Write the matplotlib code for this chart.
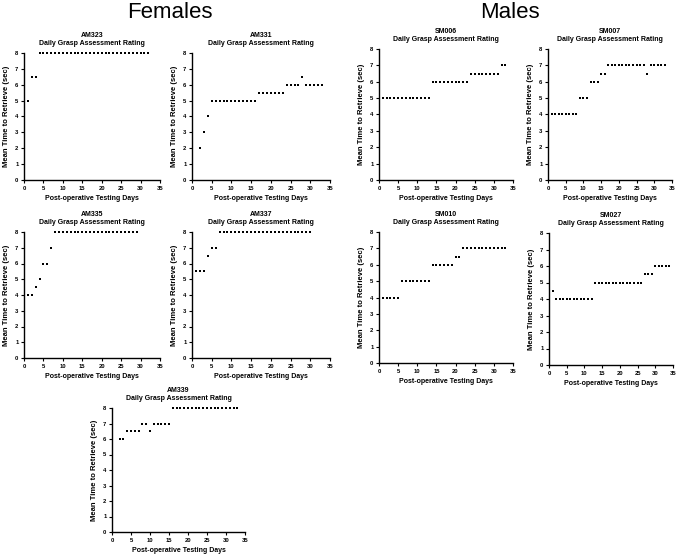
import numpy as np
import matplotlib
matplotlib.use("Agg")
import matplotlib.pyplot as plt

plt.rcParams['font.family'] = ['Liberation Sans', 'DejaVu Sans']

# days and ratings
am323_days = [1, 2, 3] + list(range(4, 33))
am323_vals = [5, 6.5, 6.5] + [8] * 29

am331_days = [2, 3, 4] + list(range(5, 17)) + list(range(17, 24)) + list(range(24, 28)) + [28] + list(range(29, 34))
am331_vals = [2, 3, 4] + [5] * 12 + [5.5] * 7 + [6] * 4 + [6.5] + [6] * 5

sm006_days = list(range(1, 14)) + list(range(14, 24)) + list(range(24, 32)) + [32, 33]
sm006_vals = [5] * 13 + [6] * 10 + [6.5] * 8 + [7, 7]

sm007_days = list(range(1, 9)) + [9, 10, 11] + [12, 13, 14] + [15, 16] + list(range(17, 28)) + [28] + list(range(29, 34))
sm007_vals = [4] * 8 + [5] * 3 + [6] * 3 + [6.5] * 2 + [7] * 11 + [6.5] + [7] * 5

am335_days = [1, 2, 3, 4, 5, 6, 7] + list(range(8, 30))
am335_vals = [4, 4, 4.5, 5, 6, 6, 7] + [8] * 22

am337_days = [1, 2, 3, 4, 5, 6] + list(range(7, 31))
am337_vals = [5.5, 5.5, 5.5, 6.5, 7, 7] + [8] * 24

sm010_days = list(range(1, 6)) + list(range(6, 14)) + list(range(14, 20)) + [20, 21] + list(range(22, 34))
sm010_vals = [4] * 5 + [5] * 8 + [6] * 6 + [6.5] * 2 + [7] * 12

sm027_days = [1] + list(range(2, 13)) + list(range(13, 27)) + [27, 28, 29] + list(range(30, 35))
sm027_vals = [4.5] + [4] * 11 + [5] * 14 + [5.5] * 3 + [6] * 5

am339_days = [2, 3] + [4, 5, 6, 7] + [8, 9] + [10] + list(range(11, 16)) + list(range(16, 34))
am339_vals = [6, 6] + [6.5] * 4 + [7, 7] + [6.5] + [7] * 5 + [8] * 18

W, H = 685, 558
fig = plt.figure(figsize=(W / 100, H / 100), dpi=100)


def panel(name, days, vals, x0, x1, ytop, ybot):
    ax = fig.add_axes([x0 / W, 1 - ybot / H, (x1 - x0) / W, (ybot - ytop) / H])
    ax.plot(days, vals, 's', color='black', markersize=1.8, markeredgewidth=0, clip_on=False)
    ax.set_xlim(0, 35)
    ax.set_ylim(0, 8)
    ax.set_xticks(range(0, 36, 5))
    ax.set_yticks(range(0, 9))
    for s in ['top', 'right']:
        ax.spines[s].set_visible(False)
    for s in ['left', 'bottom']:
        ax.spines[s].set_linewidth(1.0)
    ax.tick_params(labelsize=4.2, length=2.5, width=0.8, pad=1.5)
    for lab in ax.get_xticklabels() + ax.get_yticklabels():
        lab.set_fontweight('bold')
    ax.set_title(name + "\nDaily Grasp Assessment Rating", fontsize=5, fontweight='bold',
                 pad=6, linespacing=1.2)
    ax.set_ylabel("Mean Time to Retrieve (sec)", fontsize=5.5, fontweight='bold', labelpad=4)
    ax.set_xlabel("Post-operative Testing Days", fontsize=5, fontweight='bold', labelpad=3)
    return ax


panel("AM323", am323_days, am323_vals, 24, 160, 53, 180)
panel("AM331", am331_days, am331_vals, 192, 330, 53, 180)
panel("SM006", sm006_days, sm006_vals, 379, 513, 49, 180)
panel("SM007", sm007_days, sm007_vals, 548, 672, 49, 180)
panel("AM335", am335_days, am335_vals, 24, 160, 232, 358)
panel("AM337", am337_days, am337_vals, 192, 330, 232, 358)
panel("SM010", sm010_days, sm010_vals, 379, 513, 232, 363)
panel("SM027", sm027_days, sm027_vals, 549, 673, 233, 365)
panel("AM339", am339_days, am339_vals, 112, 245, 408, 532)

fig.text(170 / W, 1 - 12 / H, "Females", fontsize=16, ha='center', va='center')
fig.text(510 / W, 1 - 12 / H, "Males", fontsize=16, ha='center', va='center')

fig.savefig("out.png", dpi=100)
